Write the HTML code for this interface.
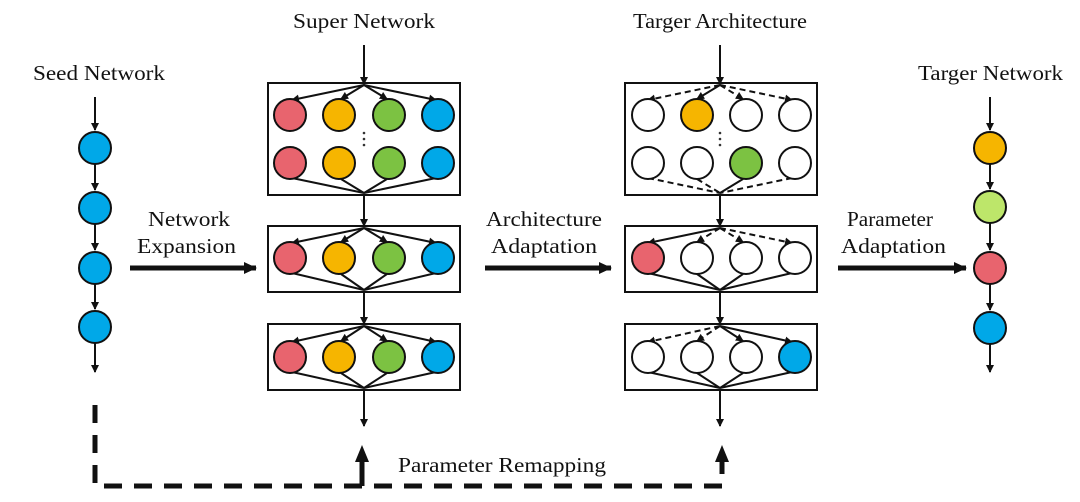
<!DOCTYPE html><html><head><style>body{margin:0;background:#fff}svg{display:block}text{font-family:"Liberation Serif",serif;font-size:21px;fill:#111}</style></head><body>
<svg width="1080" height="502" viewBox="0 0 1080 502" xmlns="http://www.w3.org/2000/svg">
<defs>
<marker id="a" markerWidth="8" markerHeight="8" refX="7" refY="4" orient="auto" markerUnits="userSpaceOnUse"><path d="M0,0 L8,4 L0,8 z" fill="#111"/></marker>
<marker id="b" markerWidth="14" markerHeight="14" refX="12" refY="7" orient="auto" markerUnits="userSpaceOnUse"><path d="M0,1 L13,7 L0,13 z" fill="#111"/></marker>
</defs>
<g stroke="#111" stroke-width="2" fill="none">
<line x1="95" y1="97" x2="95" y2="130" marker-end="url(#a)"/>
<line x1="95" y1="164" x2="95" y2="190" marker-end="url(#a)"/>
<line x1="95" y1="224" x2="95" y2="250" marker-end="url(#a)"/>
<line x1="95" y1="284" x2="95" y2="309" marker-end="url(#a)"/>
<line x1="95" y1="343" x2="95" y2="372" marker-end="url(#a)"/>
<line x1="990" y1="97" x2="990" y2="130" marker-end="url(#a)"/>
<line x1="990" y1="164" x2="990" y2="189" marker-end="url(#a)"/>
<line x1="990" y1="223" x2="990" y2="250" marker-end="url(#a)"/>
<line x1="990" y1="284" x2="990" y2="310" marker-end="url(#a)"/>
<line x1="990" y1="344" x2="990" y2="372" marker-end="url(#a)"/>
<line x1="364" y1="45" x2="364" y2="84" marker-end="url(#a)"/>
<line x1="364" y1="194" x2="364" y2="226" marker-end="url(#a)"/>
<line x1="364" y1="291" x2="364" y2="324" marker-end="url(#a)"/>
<line x1="364" y1="389" x2="364" y2="426" marker-end="url(#a)"/>
<line x1="720" y1="45" x2="720" y2="84" marker-end="url(#a)"/>
<line x1="720" y1="194" x2="720" y2="226" marker-end="url(#a)"/>
<line x1="720" y1="291" x2="720" y2="324" marker-end="url(#a)"/>
<line x1="720" y1="389" x2="720" y2="426" marker-end="url(#a)"/>
<rect x="268" y="83" width="192" height="112"/><rect x="268" y="226" width="192" height="66"/><rect x="268" y="324" width="192" height="66"/>
<rect x="625" y="83" width="192" height="112"/><rect x="625" y="226" width="192" height="66"/><rect x="625" y="324" width="192" height="66"/>
<g>
<line x1="364" y1="85" x2="292" y2="100" marker-end="url(#a)"/><line x1="364" y1="85" x2="341" y2="99" marker-end="url(#a)"/><line x1="364" y1="85" x2="387" y2="99" marker-end="url(#a)"/><line x1="364" y1="85" x2="436" y2="100" marker-end="url(#a)"/>
<line x1="292" y1="178" x2="364" y2="193"/><line x1="341" y1="179" x2="364" y2="193"/><line x1="387" y1="179" x2="364" y2="193"/><line x1="436" y1="178" x2="364" y2="193"/>
<line x1="364" y1="228" x2="292" y2="243" marker-end="url(#a)"/><line x1="364" y1="228" x2="341" y2="242" marker-end="url(#a)"/><line x1="364" y1="228" x2="387" y2="242" marker-end="url(#a)"/><line x1="364" y1="228" x2="436" y2="243" marker-end="url(#a)"/>
<line x1="292" y1="273" x2="364" y2="290"/><line x1="341" y1="274" x2="364" y2="290"/><line x1="387" y1="274" x2="364" y2="290"/><line x1="436" y1="273" x2="364" y2="290"/>
<line x1="364" y1="326" x2="292" y2="342" marker-end="url(#a)"/><line x1="364" y1="326" x2="341" y2="341" marker-end="url(#a)"/><line x1="364" y1="326" x2="387" y2="341" marker-end="url(#a)"/><line x1="364" y1="326" x2="436" y2="342" marker-end="url(#a)"/>
<line x1="292" y1="372" x2="364" y2="388"/><line x1="341" y1="373" x2="364" y2="388"/><line x1="387" y1="373" x2="364" y2="388"/><line x1="436" y1="372" x2="364" y2="388"/>
</g>
<g>
<line x1="720" y1="85" x2="648" y2="100" stroke-dasharray="6,4" marker-end="url(#a)"/><line x1="720" y1="85" x2="697" y2="99" marker-end="url(#a)"/><line x1="720" y1="85" x2="743" y2="99" stroke-dasharray="6,4" marker-end="url(#a)"/><line x1="720" y1="85" x2="792" y2="100" stroke-dasharray="6,4" marker-end="url(#a)"/>
<line x1="648" y1="178" x2="720" y2="193" stroke-dasharray="6,4"/><line x1="697" y1="179" x2="720" y2="193" stroke-dasharray="6,4"/><line x1="743" y1="179" x2="720" y2="193"/><line x1="792" y1="178" x2="720" y2="193" stroke-dasharray="6,4"/>
<line x1="720" y1="228" x2="648" y2="243" marker-end="url(#a)"/><line x1="720" y1="228" x2="697" y2="242" stroke-dasharray="6,4" marker-end="url(#a)"/><line x1="720" y1="228" x2="743" y2="242" stroke-dasharray="6,4" marker-end="url(#a)"/><line x1="720" y1="228" x2="792" y2="243" stroke-dasharray="6,4" marker-end="url(#a)"/>
<line x1="648" y1="273" x2="720" y2="290"/><line x1="697" y1="274" x2="720" y2="290"/><line x1="743" y1="274" x2="720" y2="290"/><line x1="792" y1="273" x2="720" y2="290"/>
<line x1="720" y1="326" x2="648" y2="342" stroke-dasharray="6,4" marker-end="url(#a)"/><line x1="720" y1="326" x2="697" y2="341" stroke-dasharray="6,4" marker-end="url(#a)"/><line x1="720" y1="326" x2="743" y2="341" marker-end="url(#a)"/><line x1="720" y1="326" x2="792" y2="342" marker-end="url(#a)"/>
<line x1="648" y1="372" x2="720" y2="388"/><line x1="697" y1="373" x2="720" y2="388"/><line x1="743" y1="373" x2="720" y2="388"/><line x1="792" y1="372" x2="720" y2="388"/>
</g>
<line x1="130" y1="268" x2="256" y2="268" stroke-width="5" marker-end="url(#b)"/>
<line x1="485" y1="268" x2="611" y2="268" stroke-width="5" marker-end="url(#b)"/>
<line x1="838" y1="268" x2="966" y2="268" stroke-width="5" marker-end="url(#b)"/>
<path d="M95,405 L95,486 L722,486 L722,462" stroke-width="5" stroke-dasharray="18,12"/>
<line x1="362" y1="486" x2="362" y2="460" stroke-width="5"/>
</g>
<path d="M355,462 L362,445 L369,462 z" fill="#111"/>
<path d="M715,462 L722,445 L729,462 z" fill="#111"/>
<g stroke="#111" stroke-width="2">
<circle cx="95" cy="148" r="16" fill="#00a8e8"/><circle cx="95" cy="208" r="16" fill="#00a8e8"/><circle cx="95" cy="268" r="16" fill="#00a8e8"/><circle cx="95" cy="327" r="16" fill="#00a8e8"/>
<circle cx="990" cy="148" r="16" fill="#f6b500"/><circle cx="990" cy="207" r="16" fill="#bde66a"/><circle cx="990" cy="268" r="16" fill="#e8646e"/><circle cx="990" cy="328" r="16" fill="#00a8e8"/>
<circle cx="290" cy="115" r="16" fill="#e8646e"/><circle cx="339" cy="115" r="16" fill="#f6b500"/><circle cx="389" cy="115" r="16" fill="#7cc242"/><circle cx="438" cy="115" r="16" fill="#00a8e8"/>
<circle cx="290" cy="163" r="16" fill="#e8646e"/><circle cx="339" cy="163" r="16" fill="#f6b500"/><circle cx="389" cy="163" r="16" fill="#7cc242"/><circle cx="438" cy="163" r="16" fill="#00a8e8"/>
<circle cx="290" cy="258" r="16" fill="#e8646e"/><circle cx="339" cy="258" r="16" fill="#f6b500"/><circle cx="389" cy="258" r="16" fill="#7cc242"/><circle cx="438" cy="258" r="16" fill="#00a8e8"/>
<circle cx="290" cy="357" r="16" fill="#e8646e"/><circle cx="339" cy="357" r="16" fill="#f6b500"/><circle cx="389" cy="357" r="16" fill="#7cc242"/><circle cx="438" cy="357" r="16" fill="#00a8e8"/>
<circle cx="648" cy="115" r="16" fill="#fff"/><circle cx="697" cy="115" r="16" fill="#f6b500"/><circle cx="746" cy="115" r="16" fill="#fff"/><circle cx="795" cy="115" r="16" fill="#fff"/>
<circle cx="648" cy="163" r="16" fill="#fff"/><circle cx="697" cy="163" r="16" fill="#fff"/><circle cx="746" cy="163" r="16" fill="#7cc242"/><circle cx="795" cy="163" r="16" fill="#fff"/>
<circle cx="648" cy="258" r="16" fill="#e8646e"/><circle cx="697" cy="258" r="16" fill="#fff"/><circle cx="746" cy="258" r="16" fill="#fff"/><circle cx="795" cy="258" r="16" fill="#fff"/>
<circle cx="648" cy="357" r="16" fill="#fff"/><circle cx="697" cy="357" r="16" fill="#fff"/><circle cx="746" cy="357" r="16" fill="#fff"/><circle cx="795" cy="357" r="16" fill="#00a8e8"/>
</g>
<g fill="#333"><circle cx="364" cy="133" r="1.3"/><circle cx="364" cy="139" r="1.3"/><circle cx="364" cy="145" r="1.3"/><circle cx="720" cy="133" r="1.3"/><circle cx="720" cy="139" r="1.3"/><circle cx="720" cy="145" r="1.3"/></g>
<g lengthAdjust="spacingAndGlyphs">
<text x="293" y="28" textLength="142" lengthAdjust="spacingAndGlyphs">Super Network</text>
<text x="633" y="28" textLength="174" lengthAdjust="spacingAndGlyphs">Targer Architecture</text>
<text x="33" y="80" textLength="132" lengthAdjust="spacingAndGlyphs">Seed Network</text>
<text x="918" y="80" textLength="145" lengthAdjust="spacingAndGlyphs">Targer Network</text>
<text x="148" y="226" textLength="82" lengthAdjust="spacingAndGlyphs">Network</text><text x="137" y="253" textLength="99" lengthAdjust="spacingAndGlyphs">Expansion</text>
<text x="486" y="226" textLength="116" lengthAdjust="spacingAndGlyphs">Architecture</text><text x="491" y="253" textLength="106" lengthAdjust="spacingAndGlyphs">Adaptation</text>
<text x="847" y="226" textLength="86" lengthAdjust="spacingAndGlyphs">Parameter</text><text x="841" y="253" textLength="105" lengthAdjust="spacingAndGlyphs">Adaptation</text>
<text x="398" y="472" textLength="208" lengthAdjust="spacingAndGlyphs">Parameter Remapping</text>
</g>
</svg>
</body></html>
